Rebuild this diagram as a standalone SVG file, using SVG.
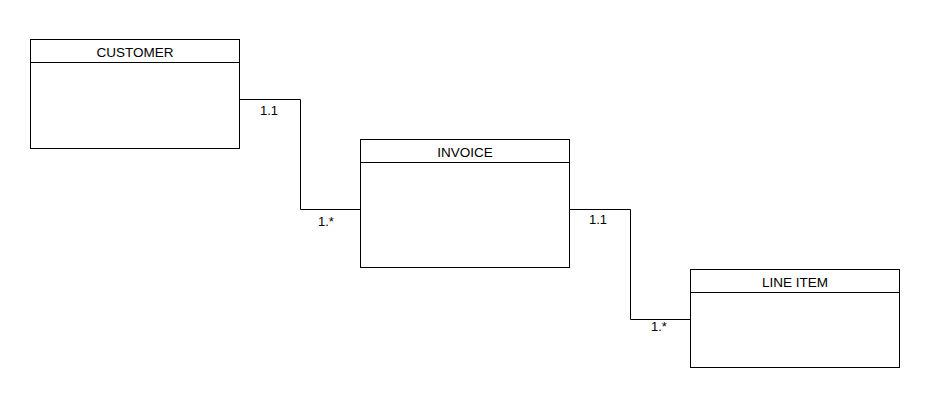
<svg xmlns="http://www.w3.org/2000/svg" width="932" height="412" viewBox="0 0 932 412">
<style>
.box{fill:#fff;stroke:#000;stroke-width:1}
.sep{stroke:#000;stroke-width:1}
.title{font-family:"Liberation Sans",Arial,sans-serif;font-size:13.5px;fill:#000;text-anchor:middle}
.lbl{font-family:"Liberation Sans",Arial,sans-serif;font-size:13px;fill:#000}
.conn{fill:none;stroke:#000;stroke-width:1}
</style>
<rect width="932" height="412" fill="#fff"/>
<g id="connectors">
<polyline class="conn" points="239.5,99.5 300.5,99.5 300.5,209.5 360.5,209.5"/>
<polyline class="conn" points="569.5,209.5 630.5,209.5 630.5,319.5 690.5,319.5"/>
<text class="lbl" x="260" y="115">1.1</text>
<text class="lbl" x="318" y="226">1.*</text>
<text class="lbl" x="589" y="224">1.1</text>
<text class="lbl" x="651" y="331">1.*</text>
</g>
<g id="customer">
<rect class="box" x="30.5" y="39.5" width="209" height="109"/>
<line class="sep" x1="30.5" y1="62.5" x2="239.5" y2="62.5"/>
<text class="title" x="135" y="56.5">CUSTOMER</text>
</g>
<g id="invoice">
<rect class="box" x="360.5" y="139.5" width="209" height="128"/>
<line class="sep" x1="360.5" y1="162.5" x2="569.5" y2="162.5"/>
<text class="title" x="465" y="157">INVOICE</text>
</g>
<g id="line-item">
<rect class="box" x="690.5" y="269.5" width="209" height="98"/>
<line class="sep" x1="690.5" y1="292.5" x2="899.5" y2="292.5"/>
<text class="title" x="795" y="287">LINE ITEM</text>
</g>
</svg>
